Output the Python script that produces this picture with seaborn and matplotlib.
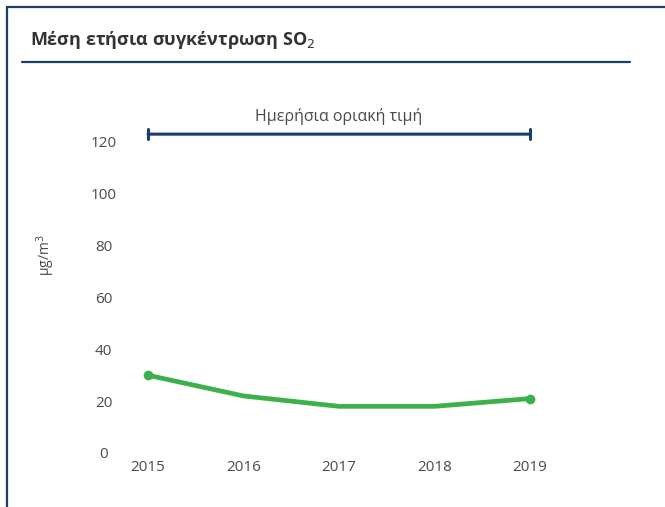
import matplotlib
matplotlib.use("Agg")
import matplotlib.pyplot as plt
from matplotlib.lines import Line2D
import seaborn as sns
import pandas as pd

# Δεδομένα
years = [2015, 2016, 2017, 2018, 2019]
so2 = [30, 22, 18, 18, 21]
y_ticks = [0, 20, 40, 60, 80, 100, 120]
limit_value = 123
limit_label = "Ημερήσια οριακή τιμή"
title = "Μέση ετήσια συγκέντρωση SO$_2$"

navy = "#1b3f6b"
green = "#3cb04a"
grey = "#4a4a4a"

sns.set_theme(style="white")
plt.rcParams["font.family"] = ["Open Sans", "DejaVu Sans"]

df = pd.DataFrame({"year": years, "so2": so2})

fig = plt.figure(figsize=(6.65, 5.07), dpi=100)
ax = fig.add_axes([148 / 665, 54 / 507, 382 / 665, (453 - 116) / 507])

sns.lineplot(data=df, x="year", y="so2", color=green, linewidth=3.4,
             ax=ax, clip_on=False, solid_capstyle="round")
# τελείες μόνο στα άκρα
ax.plot([years[0], years[-1]], [so2[0], so2[-1]], "o", color=green,
        markersize=6, clip_on=False)

# οριακή τιμή
ax.annotate("", xy=(years[-1], limit_value), xytext=(years[0], limit_value),
            arrowprops=dict(arrowstyle="|-|,widthA=0.3,widthB=0.3",
                            color=navy, lw=2.2, shrinkA=0, shrinkB=0),
            annotation_clip=False)
ax.text((years[0] + years[-1]) / 2, limit_value + 3.5, limit_label,
        ha="center", va="bottom", fontsize=11.5, color=grey)

ax.set_xlim(years[0], years[-1])
ax.set_ylim(0, 130)
ax.set_xticks(years)
ax.set_xticklabels([str(y) for y in years])
ax.set_yticks(y_ticks)
ax.tick_params(axis="y", pad=32, labelsize=11, colors=grey, length=0)
ax.tick_params(axis="x", pad=5, labelsize=11, colors=grey, length=0)
for lab in ax.get_yticklabels():
    lab.set_horizontalalignment("center")
ax.set_xlabel("")
ax.set_ylabel("")
for s in ax.spines.values():
    s.set_visible(False)

fig.text(46 / 665, 1 - 255 / 507, "μg/m$^3$", rotation=90, ha="center",
         va="center", fontsize=10, color=grey)

# τίτλος και πλαίσιο
fig.text(30 / 665, 1 - 40 / 507, title, ha="left", va="center",
         fontsize=13, fontweight="bold", color="#333333")
fig.add_artist(Line2D([22 / 665, 630 / 665], [1 - 62 / 507, 1 - 62 / 507],
                      color=navy, lw=1.6))
fig.add_artist(Line2D([7 / 665, 7 / 665], [0, 1 - 7 / 507], color=navy, lw=1.6))
fig.add_artist(Line2D([7 / 665, 1], [1 - 7 / 507, 1 - 7 / 507], color=navy, lw=1.6))

fig.savefig("out.png", dpi=100)
